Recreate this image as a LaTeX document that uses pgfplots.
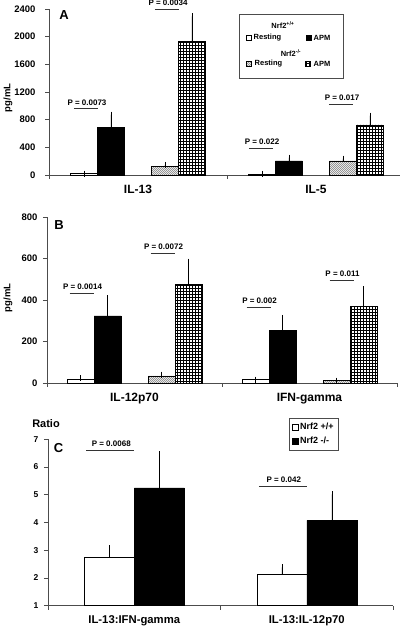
\documentclass[border=0pt]{standalone}
\usepackage{pgfplots}
\pgfplotsset{compat=1.18}
\usepackage{fontspec}
\setmainfont{Liberation Sans}
\usetikzlibrary{patterns}

\pgfdeclarepatternformonly{densegrid}{\pgfqpoint{-1pt}{-1pt}}{\pgfqpoint{4pt}{4pt}}{\pgfqpoint{3pt}{3pt}}{%
  \pgfsetlinewidth{0.9pt}%
  \pgfpathmoveto{\pgfqpoint{0pt}{0pt}}\pgfpathlineto{\pgfqpoint{3.1pt}{0pt}}%
  \pgfpathmoveto{\pgfqpoint{0pt}{0pt}}\pgfpathlineto{\pgfqpoint{0pt}{3.1pt}}%
  \pgfusepath{stroke}}
\pgfdeclarepatternformonly{finehatch}{\pgfqpoint{-1pt}{-1pt}}{\pgfqpoint{3pt}{3pt}}{\pgfqpoint{2pt}{2pt}}{%
  \pgfsetlinewidth{0.5pt}%
  \pgfpathmoveto{\pgfqpoint{0pt}{0pt}}\pgfpathlineto{\pgfqpoint{2.1pt}{2.1pt}}%
  \pgfusepath{stroke}}

\colorlet{axgray}{gray!60!black}

\pgfplotsset{
  myaxis/.style={
    scale only axis, clip=false,
    axis x line*=bottom, axis y line*=left,
    axis line style={draw=axgray, line width=0.6pt},
    ybar, bar width=27pt,
    xmin=-0.5,
    xtick={0,1},
    minor xtick={-0.5,0.5,1.5},
    major x tick style={draw=none},
    minor x tick style={draw=axgray, line width=0.6pt},
    tick align=outside,
    major tick length=4pt, minor tick length=4pt,
    ytick style={draw=axgray, line width=0.6pt},
    ymin=0,
    scaled y ticks=false,
    /pgf/number format/assume math mode=true,
    /pgf/number format/1000 sep={},
    yticklabel style={font=\bfseries\fontsize{9.5}{10}\selectfont},
    xticklabel style={font=\bfseries\fontsize{12}{12}\selectfont, yshift=-3pt},
    error bars/y dir=plus, error bars/y explicit,
    error bars/error bar style={black, line width=0.5pt},
    error bars/error mark options={black, line width=0.5pt, mark size=3pt},
  },
}

% x, shift(pt), half length(pt), y, text
\newcommand{\pv}[5]{%
  \draw[black!80, line width=0.5pt] ([xshift={(#2-#3)*1pt}]axis cs:#1,#4) -- ([xshift={(#2+#3)*1pt}]axis cs:#1,#4);
  \node[font=\bfseries\fontsize{8}{8}\selectfont, anchor=base, inner sep=0pt] at ([xshift={(#2+1)*1pt}, yshift=3.5pt]axis cs:#1,#4) {#5};
}

\begin{document}
\begin{tikzpicture}[x=1pt,y=1pt]
\useasboundingbox (0,0) rectangle (400,627);

% ---------------- Panel A ----------------
\begin{axis}[myaxis, at={(49pt,452pt)}, anchor=south west, width=351pt, height=166pt,
  xmax=1.472, ymax=2400, ytick={0,400,...,2400}, xticklabels={IL-13,IL-5},
  yticklabel style={xshift=-6pt}]
\addplot[draw=black, line width=0.5pt, fill=white, bar shift=-54pt] coordinates {(0,20) +- (0,0) (1,15) +- (0,0)};
\addplot[draw=black, line width=0.5pt, fill=black, bar shift=-27pt] coordinates {(0,690) +- (0,184) (1,205) +- (0,46)};
\addplot[draw=black, line width=0.5pt, pattern=finehatch, pattern color=gray, bar shift=27pt] coordinates {(0,125) +- (0,20) (1,205) +- (0,32)};
\addplot[draw=black, line width=0.5pt, pattern=densegrid, bar shift=54pt] coordinates {(0,1930) +- (0,365) (1,725) +- (0,132)};
\pv{0}{-52}{12}{961}{P = 0.0073}
\pv{0}{29}{12}{2400}{P = 0.0034}
\pv{1}{-55}{12}{386}{P = 0.022}
\pv{1}{25}{12}{1024}{P = 0.017}
\end{axis}

% ---------------- Panel B ----------------
\begin{axis}[myaxis, at={(47pt,244pt)}, anchor=south west, width=350pt, height=166pt,
  xmax=1.5, ymax=800, ytick={0,200,...,800}, xticklabels={IL-12p70,IFN-gamma},
  yticklabel style={xshift=-2pt}]
\addplot[draw=black, line width=0.5pt, fill=white, bar shift=-54pt] coordinates {(0,20) +- (0,3) (1,16) +- (0,0)};
\addplot[draw=black, line width=0.5pt, fill=black, bar shift=-27pt] coordinates {(0,323) +- (0,85) (1,252) +- (0,62)};
\addplot[draw=black, line width=0.5pt, pattern=finehatch, pattern color=gray, bar shift=27pt] coordinates {(0,34) +- (0,6) (1,11) +- (0,0)};
\addplot[draw=black, line width=0.5pt, pattern=densegrid, bar shift=54pt] coordinates {(0,475) +- (0,110) (1,368) +- (0,85)};
\pv{0}{-53}{12}{434}{P = 0.0014}
\pv{0}{28}{12}{627}{P = 0.0072}
\pv{1}{-51}{12}{366}{P = 0.002}
\pv{1}{32}{12}{495}{P = 0.011}
\end{axis}

% ---------------- Panel C ----------------
\begin{axis}[myaxis, at={(48pt,21.3pt)}, anchor=south west, width=345pt, height=166.4pt,
  xmax=1.5, ymin=1, ymax=7, ytick={1,...,7}, bar width=50pt,
  yticklabel style={font=\bfseries\fontsize{8.5}{9}\selectfont, xshift=-2pt},
  xticklabel style={font=\bfseries\fontsize{11.3}{12}\selectfont, yshift=1pt},
  xticklabels={IL-13:IFN-gamma,IL-13:IL-12p70},
  legend style={at={(0.699,1.128)}, anchor=north west, draw=axgray, line width=0.5pt,
    font=\bfseries\fontsize{9}{10}\selectfont, inner xsep=3pt, inner ysep=3pt, row sep=2pt},
  legend cell align=left]
\addplot[draw=black, line width=0.5pt, fill=white, bar shift=-25pt,
  legend image code/.code={\draw[draw=black, fill=white, line width=0.5pt] (0pt,-2.6pt) rectangle (5.2pt,2.6pt);}]
  coordinates {(0,2.75) +- (0,0.33) (1,2.15) +- (0,0.23)};
\addlegendentry{Nrf2 +/+}
\addplot[draw=black, line width=0.5pt, fill=black, bar shift=25pt,
  legend image code/.code={\draw[draw=black, fill=black, line width=0.5pt] (0pt,-2.6pt) rectangle (5.2pt,2.6pt);}]
  coordinates {(0,5.25) +- (0,1.22) (1,4.08) +- (0,0.93)};
\addlegendentry{Nrf2 -/-}
\pv{0}{-24}{24}{6.6}{P = 0.0068}
\pv{1}{-24}{24}{5.31}{P = 0.042}
\end{axis}

% ---------------- Legend A ----------------
\begin{scope}[font=\bfseries\fontsize{7.5}{8}\selectfont]
\draw[axgray, line width=0.5pt] (239,549) rectangle (343,613);
\node at (283,602) {Nrf2\textsuperscript{+/+}};
\draw[black, line width=0.5pt, fill=white] (246.5,586.5) rectangle (251.5,591.5);
\node[anchor=west, inner sep=1pt] at (252.5,589) {Resting};
\draw[black, line width=0.5pt, fill=black] (306.5,586.5) rectangle (311.5,591.5);
\node[anchor=west, inner sep=1pt] at (312.5,589) {APM};
\node at (291,574) {Nrf2\textsuperscript{-/-}};
\draw[black, line width=0.5pt, pattern=finehatch, pattern color=gray] (246.5,560.5) rectangle (251.5,565.5);
\node[anchor=west, inner sep=1pt] at (253.5,563) {Resting};
\draw[black, line width=0.5pt, pattern=densegrid] (305.5,560.5) rectangle (310.5,565.5);
\node[anchor=west, inner sep=1pt] at (312.5,563) {APM};
\end{scope}

% ---------------- Panel letters and labels ----------------
\node[font=\bfseries\fontsize{13}{13}\selectfont] at (64,612) {A};
\node[font=\bfseries\fontsize{13}{13}\selectfont] at (59,401.5) {B};
\node[font=\bfseries\fontsize{13}{13}\selectfont] at (58.5,179) {C};
\node[font=\bfseries\fontsize{11}{11}\selectfont] at (46,203) {Ratio};
\node[font=\bfseries\fontsize{9.5}{10}\selectfont, rotate=90] at (8,529) {pg/mL};
\node[font=\bfseries\fontsize{9.5}{10}\selectfont, rotate=90] at (8,329) {pg/mL};
\end{tikzpicture}
\end{document}
